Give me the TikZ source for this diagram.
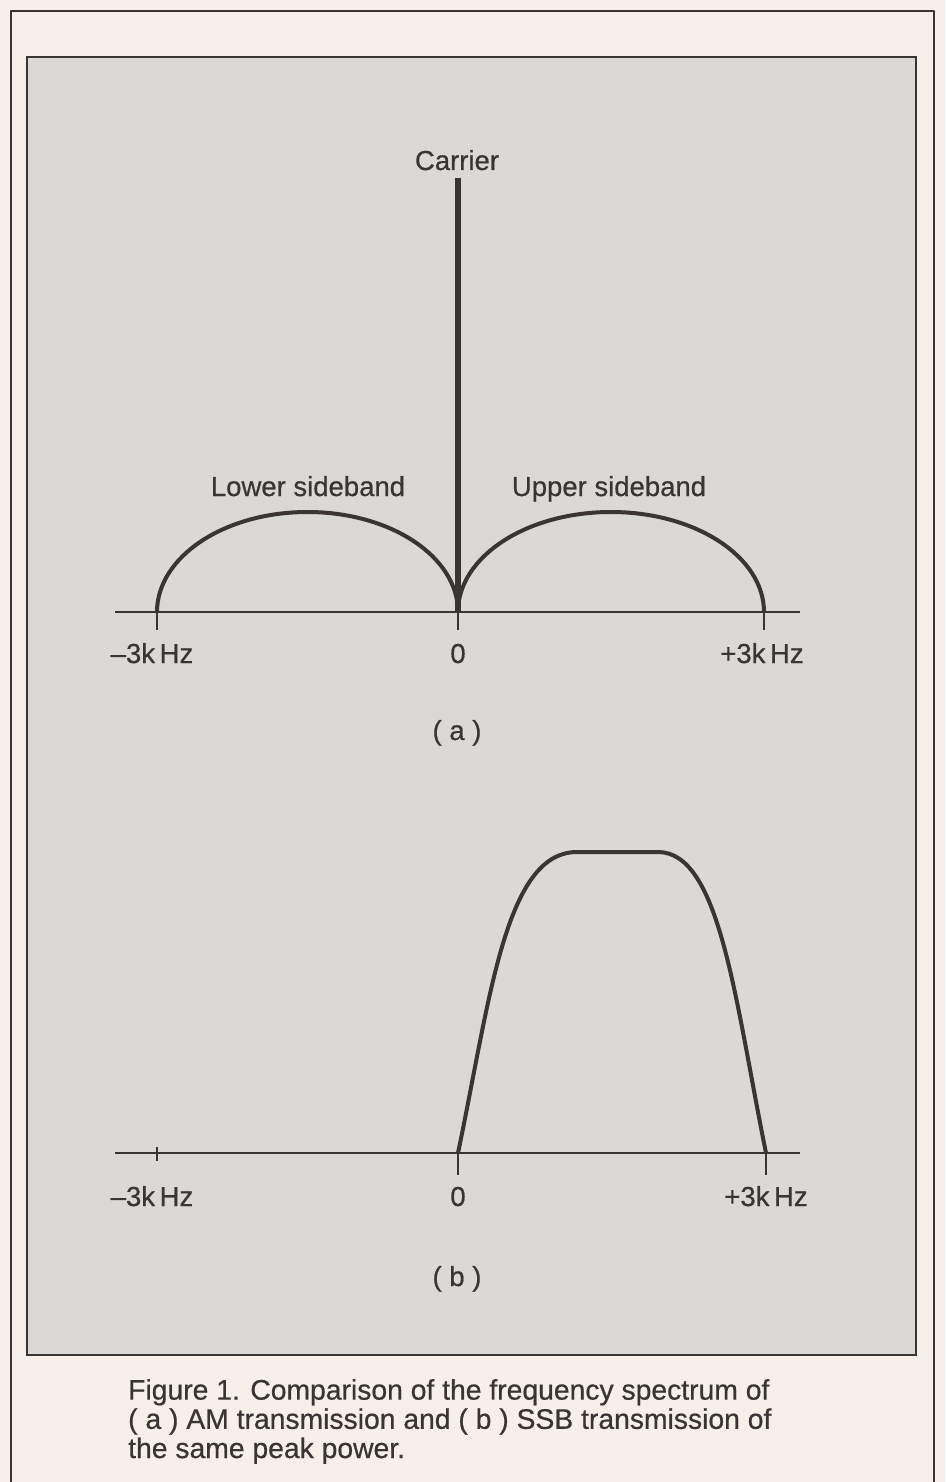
\documentclass[tikz,border=0pt]{standalone}
\usepackage{fontspec}
\setmainfont[FakeBold=0.5]{Liberation Sans}
\newfontfamily\labelfont[FakeBold=0.6]{Liberation Sans}
\definecolor{paper}{RGB}{247,239,234}
\definecolor{panel}{RGB}{219,217,213}
\definecolor{ink}{RGB}{58,52,52}
\begin{document}
\begin{tikzpicture}[x=1pt,y=-1pt,
  lbl/.style={font=\labelfont\fontsize{27.5}{29}\selectfont, text=ink, inner sep=0pt, anchor=base},
  captext/.style={font=\labelfont\fontsize{28.3}{29.2}\selectfont, text=ink, inner sep=0pt, anchor=base west, align=left},
  framestyle/.style={draw=ink, line width=2.6pt},
  axisline/.style={draw=ink, line width=2pt},
  tickline/.style={draw=ink, line width=2pt},
  curve/.style={draw=ink, line width=4pt},
  carrierline/.style={draw=ink, line width=6pt}]
\useasboundingbox (0,0) rectangle (945,1482);
\fill[paper] (0,0) rectangle (945,1482);
% outer frame (open at the bottom)
\draw[framestyle, line join=round] (11,1490) -- (11,11) -- (934,11) -- (934,1490);
% grey panel
\filldraw[fill=panel, framestyle] (27,57) rectangle (916,1355);

% ---------- (a) ----------
\coordinate (aL) at (115,612);
\coordinate (aR) at (800,612);
\coordinate (am3) at (157,612);
\coordinate (a0) at (458,612);
\coordinate (ap3) at (764,612);
\coordinate (ctop) at (458,178);
\draw[axisline] (aL) -- (aR);
\draw[tickline] (am3) -- ++(0,18);
\draw[tickline] (a0) -- ++(0,18);
\draw[tickline] (ap3) -- ++(0,18);
\draw[curve] (am3) arc[start angle=180, end angle=360, x radius=150.5, y radius=100];
\draw[curve] (a0) arc[start angle=180, end angle=360, x radius=153, y radius=100];
\draw[carrierline] (a0) -- (ctop);
\node[lbl] (carrier) at (457,170) {Carrier};
\node[lbl] (lsb) at (308,496) {Lower sideband};
\node[lbl] (usb) at (609,496) {Upper sideband};
\node[lbl] (am3t) at (152,663) {–3k\,Hz};
\node[lbl] (a0t) at (458,663) {0};
\node[lbl] (ap3t) at (762,663) {+3k\,Hz};
\node[lbl] (capa) at (457,740) {( a )};

% ---------- (b) ----------
\coordinate (bL) at (115,1153);
\coordinate (bR) at (800,1153);
\coordinate (bm3) at (157,1153);
\coordinate (b0) at (458,1153);
\coordinate (bp3) at (766,1153);
\coordinate (btl) at (577,852);
\coordinate (btr) at (658,852);
\draw[axisline] (bL) -- (bR);
\draw[tickline] ([yshift=6pt]bm3) -- ++(0,14);
\draw[tickline] (b0) -- ++(0,22);
\draw[tickline] (bp3) -- ++(0,22);
\draw[curve, line join=round] (b0) .. controls (490,1000) and (505,852) .. (btl)
  -- (btr) .. controls (720,852) and (735,1000) .. (bp3);
\node[lbl] (bm3t) at (152,1206) {–3k\,Hz};
\node[lbl] (b0t) at (458,1206) {0};
\node[lbl] (bp3t) at (766,1206) {+3k\,Hz};
\node[lbl] (capb) at (457,1286) {( b )};

% ---------- caption ----------
\node[captext] (caption) at (128,1458) {Figure 1. Comparison of the frequency spectrum of\\
( a ) AM transmission and ( b ) SSB transmission of\\
the same peak power.};
\end{tikzpicture}
\end{document}
